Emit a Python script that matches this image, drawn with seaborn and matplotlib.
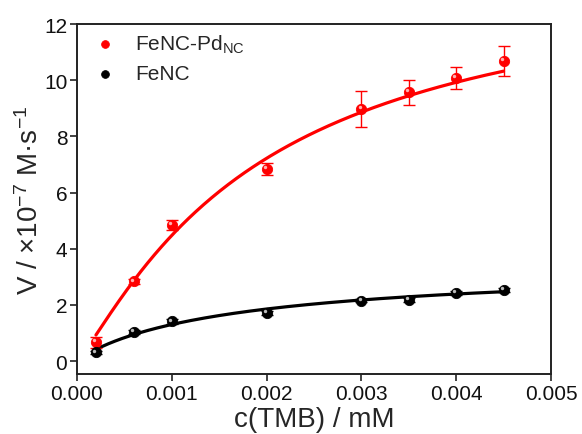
import numpy as np
import pandas as pd
import matplotlib
matplotlib.use("Agg")
import matplotlib.pyplot as plt
import matplotlib.transforms as mtransforms
import seaborn as sns

# TMB concentration (mM)
conc = [0.0002, 0.0006, 0.001, 0.002, 0.003, 0.0035, 0.004, 0.0045]
# initial velocity (x1e-7 M/s)
v_pd = [0.67, 2.84, 4.85, 6.84, 8.97, 9.57, 10.07, 10.69]
err_pd = [0.20, 0.10, 0.18, 0.20, 0.64, 0.45, 0.39, 0.53]
v_fenc = [0.31, 1.04, 1.41, 1.71, 2.15, 2.18, 2.42, 2.53]
err_fenc = [0.06, 0.06, 0.08, 0.08, 0.06, 0.08, 0.06, 0.06]

labels = ["FeNC-Pd$_{\\mathregular{NC}}$", "FeNC"]
colors = ["#ff0000", "#000000"]


def hill_fit(x, y, err):
    """Error-weighted least-squares Hill fit V = Vm x^n / (K^n + x^n)."""
    x = np.asarray(x, float)
    y = np.asarray(y, float)
    w = 1.0 / np.asarray(err, float) ** 2
    ns = np.linspace(0.5, 2.0, 151)
    ks = np.linspace(0.0003, 0.03, 600)
    N, K = np.meshgrid(ns, ks, indexing="ij")
    f = x[None, None, :] ** N[..., None] / (K[..., None] ** N[..., None] + x[None, None, :] ** N[..., None])
    vm = (w * f * y).sum(-1) / (w * f * f).sum(-1)
    res = (w * (y - vm[..., None] * f) ** 2).sum(-1)
    i, j = np.unravel_index(np.argmin(res), res.shape)
    return vm[i, j], K[i, j], N[i, j]


sns.set_theme(style="ticks")
plt.rcParams["font.family"] = ["Liberation Sans", "DejaVu Sans"]
plt.rcParams["mathtext.fontset"] = "custom"
plt.rcParams["mathtext.rm"] = "Liberation Sans"
plt.rcParams["mathtext.it"] = "Liberation Sans"

fig = plt.figure(figsize=(5.82, 4.35), dpi=100)
ax = fig.add_axes([0.1323, 0.1379, 0.8144, 0.8046])

xs = np.linspace(conc[0], conc[-1], 300)
series = [(v_pd, err_pd), (v_fenc, err_fenc)]
for (vals, errs), lab, col in zip(series, labels, colors):
    vm, K, n = hill_fit(conc, vals, errs)
    fit = pd.DataFrame({"c": xs, "v": vm * xs ** n / (K ** n + xs ** n)})
    sns.lineplot(data=fit, x="c", y="v", color=col, linewidth=2.3, ax=ax, zorder=2)
    ax.errorbar(conc, vals, yerr=errs, fmt="none", ecolor=col, elinewidth=1.0,
                capsize=4, capthick=1.0, zorder=3)
    pts = pd.DataFrame({"c": conc, "v": vals})
    sns.scatterplot(data=pts, x="c", y="v", color=col, s=55, edgecolor=col,
                    linewidth=0.6, ax=ax, zorder=4, label=lab)

# glossy highlight on each ball marker
shift = mtransforms.ScaledTranslation(-1.3 / 72, 1.3 / 72, fig.dpi_scale_trans)
for vals, hl in zip([v_pd, v_fenc], ["#ffb0b0", "#bbbbbb"]):
    ax.scatter(conc, vals, s=6, color=hl, linewidths=0, zorder=5,
               transform=ax.transData + shift)

ax.set_xlim(0, 0.005)
ax.set_ylim(-0.46, 12)
ax.set_xticks([0.0, 0.001, 0.002, 0.003, 0.004, 0.005])
ax.set_xticklabels(["0.000", "0.001", "0.002", "0.003", "0.004", "0.005"])
ax.set_yticks([0, 2, 4, 6, 8, 10, 12])

for side in ["left", "bottom", "top", "right"]:
    ax.spines[side].set_visible(True)
    ax.spines[side].set_linewidth(1.4)
    ax.spines[side].set_color("#222222")
ax.tick_params(axis="both", direction="out", length=5, width=1.2, color="#222222",
               labelsize=15, labelcolor="#111111", pad=2, top=False, right=False)

ax.set_xlabel("c(TMB) / mM", fontsize=20, labelpad=2.5)
ax.set_ylabel("V / \u00d710$^{\\mathregular{-7}}$ M\u00b7s$^{\\mathregular{-1}}$",
              fontsize=20, labelpad=0)

leg = ax.legend(loc="upper left", frameon=False, fontsize=15, handletextpad=0.65,
                handlelength=1.6, borderaxespad=0.0, labelspacing=0.45,
                markerscale=0.75, bbox_to_anchor=(0.006, 1.0))

fig.savefig("out.png", dpi=100)
